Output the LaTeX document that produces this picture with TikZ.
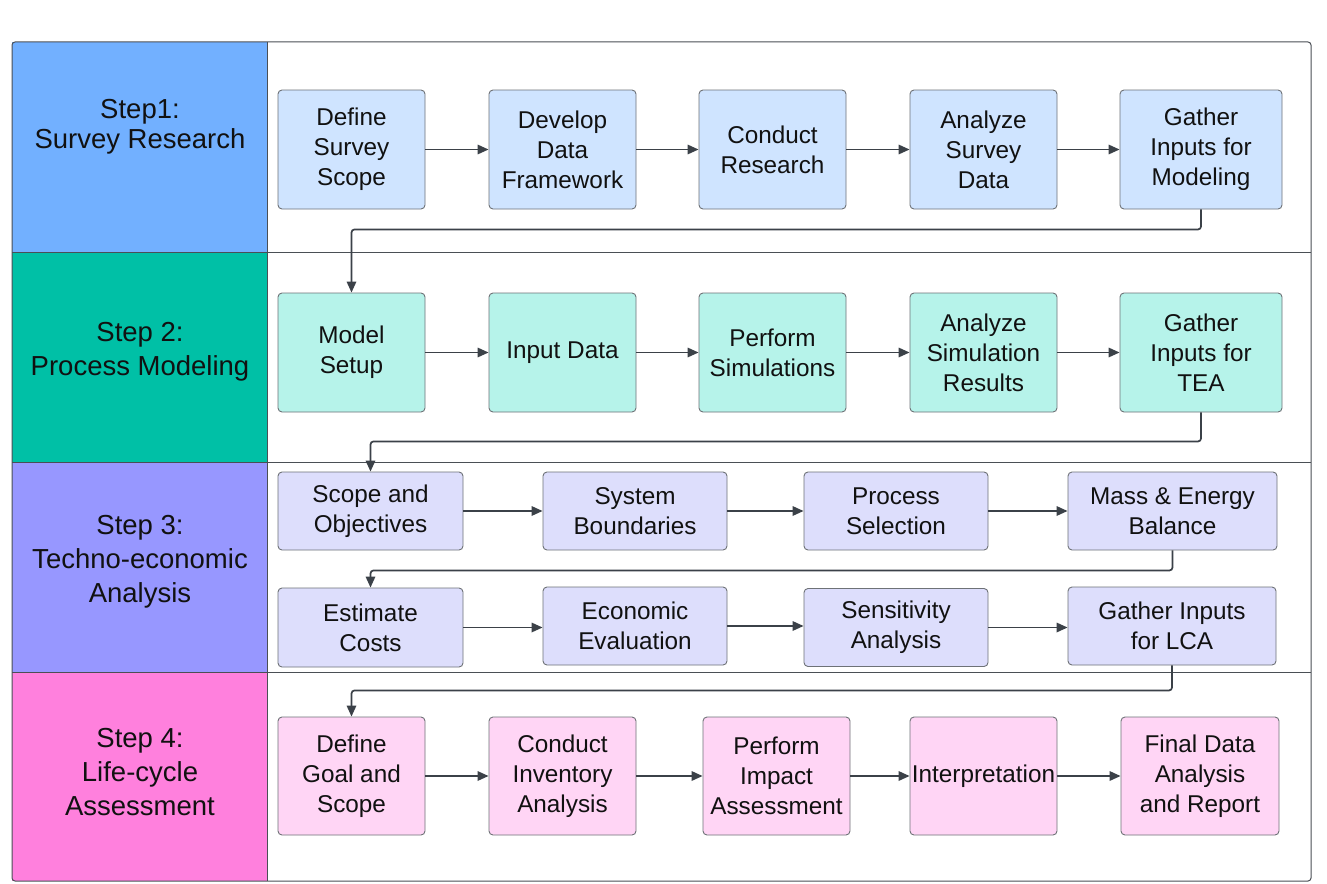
\documentclass[tikz,border=0pt]{standalone}
\usepackage{fontspec}
\setmainfont{Liberation Sans}
\usetikzlibrary{arrows.meta}
\definecolor{lane1}{HTML}{72B0FF}
\definecolor{lane2}{HTML}{00C0A6}
\definecolor{lane3}{HTML}{9797FF}
\definecolor{lane4}{HTML}{FF80DD}
\definecolor{box1}{HTML}{CFE4FF}
\definecolor{box2}{HTML}{B6F3EA}
\definecolor{box3}{HTML}{DDDEFC}
\definecolor{box4}{HTML}{FFD5F5}
\definecolor{lineclr}{HTML}{3B4148}
\definecolor{frameclr}{HTML}{4A4F55}
\definecolor{txt}{HTML}{111111}
\tikzset{
  boxbase/.style={draw=frameclr!80, line width=0.9pt, rounded corners=4pt, align=center,
    inner sep=1.5pt, text=txt, font=\fontsize{24.3}{30}\selectfont},
  b1/.style={boxbase, fill=box1},
  b2/.style={boxbase, fill=box2},
  b3/.style={boxbase, fill=box3},
  b4/.style={boxbase, fill=box4},
  lanelabel/.style={align=center, text=txt, font=\fontsize{27.5}{34}\selectfont},
  conn/.style={draw=lineclr, line width=1.7pt, -{Triangle[length=11pt,width=9.5pt]}},
  elbow/.style={conn, rounded corners=3pt},
}
\begin{document}
\begin{tikzpicture}[x=1pt,y=-1pt]
\useasboundingbox (0,0) rectangle (1327,883);
\fill[white] (0,0) rectangle (1327,883);
% lane fills
\fill[lane1] (12,42) rectangle (267,252);
\fill[lane2] (12,252) rectangle (267,462);
\fill[lane3] (12,462) rectangle (267,672);
\fill[lane4] (12,672) rectangle (267,881);
% frame and dividers
\draw[frameclr, line width=1pt, rounded corners=3pt] (12,42) rectangle (1311,881);
\draw[frameclr, line width=1pt] (267,42) -- (267,881);
\draw[frameclr, line width=1pt] (12,252) -- (1311,252);
\draw[frameclr, line width=1pt] (12,462) -- (1311,462);
\draw[frameclr, line width=1pt] (12,672) -- (1311,672);
% lane labels
\node[lanelabel, font=\fontsize{27.5}{30}\selectfont] (L1) at (140,127) {Step1:\\Survey Research};
\node[lanelabel] (L2) at (140,352) {Step 2:\\Process Modeling};
\node[lanelabel] (L3) at (140,562) {Step 3:\\Techno-economic\\Analysis};
\node[lanelabel] (L4) at (140,772) {Step 4:\\Life-cycle\\Assessment};
% row 1
\node[b1, minimum width=147pt, minimum height=119pt] (a1) at (351.5,149.5) {Define\\Survey\\Scope};
\node[b1, minimum width=147pt, minimum height=119pt] (a2) at (562.5,149.5) {Develop\\Data\\Framework};
\node[b1, minimum width=147pt, minimum height=119pt] (a3) at (772.5,149.5) {Conduct\\Research};
\node[b1, minimum width=147pt, minimum height=119pt] (a4) at (983.5,149.5) {Analyze\\Survey\\Data};
\node[b1, minimum width=162pt, minimum height=119pt] (a5) at (1201,149.5) {Gather\\Inputs for\\Modeling};
% row 2
\node[b2, minimum width=147pt, minimum height=119pt] (m1) at (351.5,352.5) {Model\\Setup};
\node[b2, minimum width=147pt, minimum height=119pt] (m2) at (562.5,352.5) {Input Data};
\node[b2, minimum width=147pt, minimum height=119pt] (m3) at (772.5,352.5) {Perform\\Simulations};
\node[b2, minimum width=147pt, minimum height=119pt] (m4) at (983.5,352.5) {Analyze\\Simulation\\Results};
\node[b2, minimum width=162pt, minimum height=119pt] (m5) at (1201,352.5) {Gather\\Inputs for\\TEA};
% row 3 top
\node[b3, minimum width=185pt, minimum height=78pt] (t1) at (370.5,511) {Scope and\\Objectives};
\node[b3, minimum width=184pt, minimum height=78pt] (t2) at (635,511) {System\\Boundaries};
\node[b3, minimum width=184pt, minimum height=78pt] (t3) at (896,511) {Process\\Selection};
\node[b3, minimum width=209pt, minimum height=78pt] (t4) at (1172.5,511) {Mass \& Energy\\Balance};
% row 3 bottom
\node[b3, minimum width=185pt, minimum height=79pt] (u1) at (370.5,627.5) {Estimate\\Costs};
\node[b3, minimum width=184pt, minimum height=78pt] (u2) at (635,626) {Economic\\Evaluation};
\node[b3, minimum width=184pt, minimum height=78pt] (u3) at (896,627.5) {Sensitivity\\Analysis};
\node[b3, minimum width=208pt, minimum height=78pt] (u4) at (1172,626) {Gather Inputs\\for LCA};
% row 4
\node[b4, minimum width=147pt, minimum height=118pt] (d1) at (351.5,776) {Define\\Goal and\\Scope};
\node[b4, minimum width=147pt, minimum height=118pt] (d2) at (562.5,776) {Conduct\\Inventory\\Analysis};
\node[b4, minimum width=147pt, minimum height=118pt] (d3) at (776.5,776) {Perform\\Impact\\Assessment};
\node[b4, minimum width=147pt, minimum height=118pt] (d4) at (983.5,776) {Interpretation};
\node[b4, minimum width=158pt, minimum height=118pt] (d5) at (1200,776) {Final Data\\Analysis\\and Report};
% horizontal connectors
\draw[conn] (a1) -- (a2);
\draw[conn] (a2) -- (a3);
\draw[conn] (a3) -- (a4);
\draw[conn] (a4) -- (a5);
\draw[conn] (m1) -- (m2);
\draw[conn] (m2) -- (m3);
\draw[conn] (m3) -- (m4);
\draw[conn] (m4) -- (m5);
\draw[conn] (t1) -- (t2);
\draw[conn] (t2) -- (t3);
\draw[conn] (t3) -- (t4);
\draw[conn] (u1.east) -- (u2.west |- u1.east);
\draw[conn] (u2) -- (u3.west |- u2.east);
\draw[conn] (u3.east) -- (u4.west |- u3.east);
\draw[conn] (d1) -- (d2);
\draw[conn] (d2) -- (d3);
\draw[conn] (d3) -- (d4);
\draw[conn] (d4) -- (d5);
% elbow connectors
\draw[elbow] (a5.south) -- ++(0,20) -| (m1.north);
\draw[elbow] (m5.south) -- ++(0,29) -| (t1.north);
\draw[elbow] (t4.south) -- ++(0,20) -| (u1.north);
\draw[elbow] (u4.south) -- ++(0,25) -| (d1.north);
\end{tikzpicture}
\end{document}
